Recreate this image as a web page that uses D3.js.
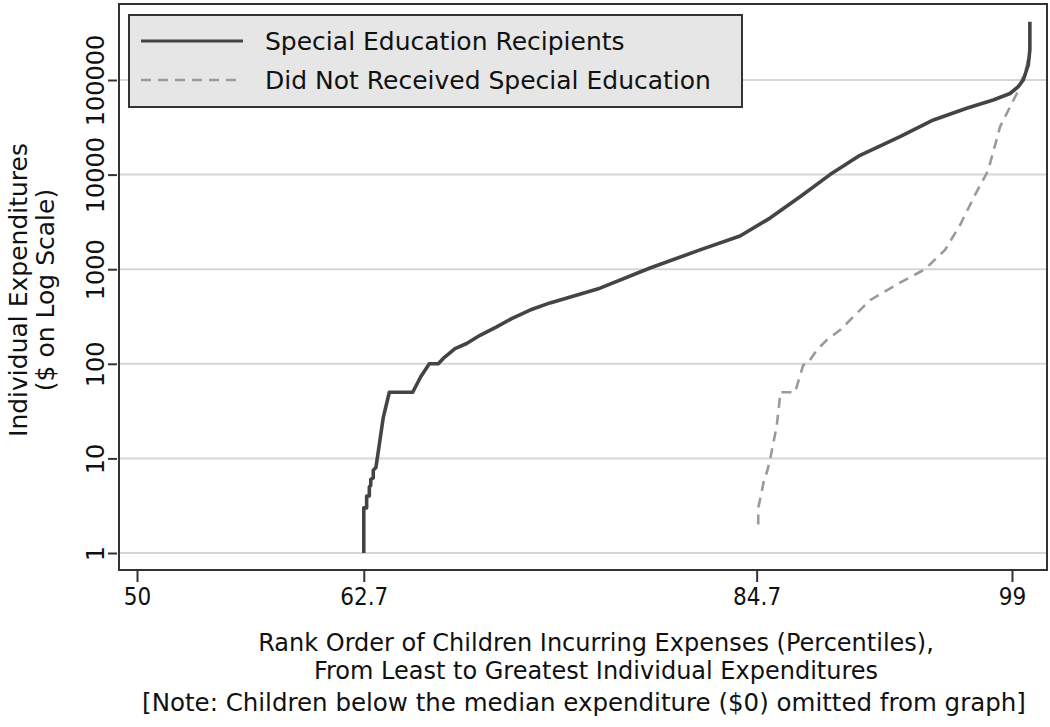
<!DOCTYPE html>
<html>
<head>
<meta charset="utf-8">
<script src="https://cdn.jsdelivr.net/npm/d3@7"></script>
<style>
  body { margin: 0; background: #fff; }
  svg { display: block; }
  text { font-family: "DejaVu Sans", "Liberation Sans", sans-serif; fill: #111; }
</style>
</head>
<body>
<svg id="chart" width="1050" height="727"></svg>
<script>
// ---- data ----
const seriesNames = ["Special Education Recipients", "Did Not Received Special Education"];
// Special education recipients: [percentile, expenditure $]
const specialEd = [
  [62.7,1],[62.7,3],[62.86,3],[62.86,4],[63.01,4],[63.01,5],[63.09,5.2],[63.09,6],
  [63.23,6.2],[63.23,7.5],[63.38,8],[63.57,14],[63.79,27],[64.13,50],[65.44,50],
  [65.89,73],[66.37,100],[66.87,100],[67.15,114],[67.81,145],[68.46,164],[69.21,200],
  [70.14,246],[70.98,300],[72.01,370],[73.13,440],[75.93,630],[78.73,1030],[81.53,1600],
  [83.77,2240],[85.45,3470],[87.17,5900],[88.81,10000],[90.49,16000],[92.73,25200],
  [94.6,37800],[96.46,50300],[97.95,61500],[98.89,72000],[99.35,85000],[99.63,100000],
  [99.91,144000],[100,208000],[100,413000]
];
// Did not receive special education
const noSpecialEd = [
  [84.79,2],[84.79,3],[84.88,3.6],[84.98,4.4],[85.11,5.9],[85.26,7],[85.45,9.6],
  [85.63,14.5],[85.82,21.6],[86.01,45],[86.01,50],[86.48,50],[86.85,50],[87.31,97],
  [87.54,100],[88.06,139],[88.62,178],[89.37,227],[90.49,370],[91.05,470],[92.73,720],
  [94.13,1000],[95.25,1600],[96.09,2930],[96.93,6100],[97.66,11000],[98.33,32000],
  [99.27,72000],[99.82,138000],[100,208000]
];
const xTicks = [50, 62.7, 84.7, 99];
const xTickLabels = ["50", "62.7", "84.7", "99"];
const yTicks = [1, 10, 100, 1000, 10000, 100000];
const yTickLabels = ["1", "10", "100", "1000", "10000", "100000"];
const yTitle = ["Individual Expenditures", "($ on Log Scale)"];
const xTitle = ["Rank Order of Children Incurring Expenses (Percentiles),",
                "From Least to Greatest Individual Expenditures"];
const note = "[Note: Children below the median expenditure ($0) omitted from graph]";

// ---- layout ----
const svg = d3.select("#chart");
const frame = { left: 119, right: 1047, top: 4, bottom: 570 };

const x = d3.scaleLinear().domain([50, 99]).range([137, 1012]);
const y = d3.scaleLog().domain([1, 100000]).range([553, 80]);

// gridlines
svg.append("g").selectAll("line").data(yTicks).join("line")
  .attr("x1", frame.left).attr("x2", frame.right)
  .attr("y1", d => y(d)).attr("y2", d => y(d))
  .attr("stroke", "#d6d6d6").attr("stroke-width", 2);

// lines
const line = d3.line().x(d => x(d[0])).y(d => y(d[1]));
svg.append("path").datum(noSpecialEd)
  .attr("d", line).attr("fill", "none")
  .attr("stroke", "#9a9a9a").attr("stroke-width", 2.6)
  .attr("stroke-dasharray", "10,7");
svg.append("path").datum(specialEd)
  .attr("d", line).attr("fill", "none")
  .attr("stroke", "#444").attr("stroke-width", 3.6)
  .attr("stroke-linejoin", "round");

// frame
svg.append("rect")
  .attr("x", frame.left).attr("y", frame.top)
  .attr("width", frame.right - frame.left).attr("height", frame.bottom - frame.top)
  .attr("fill", "none").attr("stroke", "#333").attr("stroke-width", 2);

// y axis
const yAxis = d3.axisLeft(y).tickValues(yTicks)
  .tickFormat((d, i) => yTickLabels[i]).tickSize(9).tickPadding(0);
const gy = svg.append("g").attr("transform", `translate(${frame.left - 2},0)`).call(yAxis);
gy.select(".domain").remove();
gy.selectAll(".tick line").attr("stroke", "#333").attr("stroke-width", 2);
gy.selectAll(".tick text")
  .attr("x", 0).attr("y", 0).attr("dy", 0)
  .attr("transform", "translate(-13,0) rotate(-90)")
  .attr("text-anchor", "middle")
  .style("font-family", "DejaVu Sans, sans-serif")
  .style("font-size", "24px").style("fill", "#111");

// x axis
const xAxis = d3.axisBottom(x).tickValues(xTicks)
  .tickFormat((d, i) => xTickLabels[i]).tickSize(12).tickPadding(6);
const gx = svg.append("g").attr("transform", `translate(0,${frame.bottom})`).call(xAxis);
gx.select(".domain").remove();
gx.selectAll(".tick line").attr("stroke", "#333").attr("stroke-width", 2);
gx.selectAll(".tick text")
  .style("font-family", "DejaVu Sans Condensed, DejaVu Sans, sans-serif")
  .style("font-size", "24px").style("fill", "#111");

// y title
svg.append("g").attr("transform", "translate(27,290) rotate(-90)")
  .selectAll("text").data(yTitle).join("text")
  .attr("x", 0).attr("y", (d, i) => i * 27)
  .attr("text-anchor", "middle")
  .style("font-size", "25px")
  .text(d => d);

// x title
svg.append("g").selectAll("text").data(xTitle).join("text")
  .attr("x", 596).attr("y", (d, i) => 651 + i * 28)
  .attr("text-anchor", "middle")
  .style("font-size", "24px")
  .text(d => d);
svg.append("text").attr("x", 584).attr("y", 711)
  .attr("text-anchor", "middle").style("font-size", "24.5px").text(note);

// legend
const lg = svg.append("g");
lg.append("rect").attr("x", 129).attr("y", 15).attr("width", 613).attr("height", 92)
  .attr("fill", "#e6e6e6").attr("stroke", "#333").attr("stroke-width", 2);
const legendItems = [
  { name: seriesNames[0], color: "#444", width: 3, dash: null, y: 41 },
  { name: seriesNames[1], color: "#9a9a9a", width: 2.6, dash: "10,7", y: 80 }
];
legendItems.forEach(it => {
  lg.append("line").attr("x1", 141).attr("x2", 243).attr("y1", it.y).attr("y2", it.y)
    .attr("stroke", it.color).attr("stroke-width", it.width)
    .attr("stroke-dasharray", it.dash);
  lg.append("text").attr("x", 265).attr("y", it.y + 9)
    .style("font-size", "25px").text(it.name);
});
</script>
</body>
</html>
